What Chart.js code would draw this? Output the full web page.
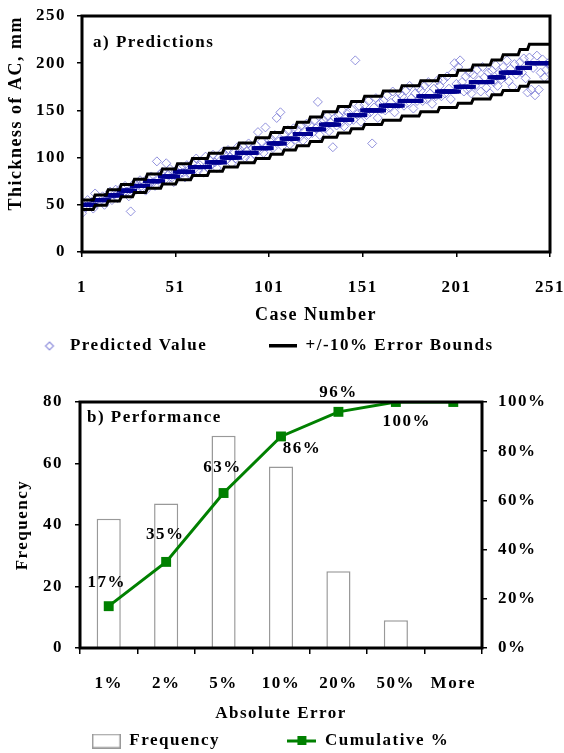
<!DOCTYPE html>
<html>
<head>
<meta charset="utf-8">
<script src="https://cdn.jsdelivr.net/npm/chart.js@4/dist/chart.umd.min.js"></script>
<style>
  html, body { margin: 0; padding: 0; background: #fff; overflow: hidden; }
  #panelA { position: absolute; left: 0; top: 0; width: 564px; height: 368px; }
  #panelB { position: absolute; left: 0; top: 368px; width: 564px; height: 392px; }
</style>
</head>
<body>
<div id="panelA"><canvas id="predictions"></canvas></div>
<div id="panelB"><canvas id="performance"></canvas></div>
<script>
// ---- a) Predictions: measured AC thickness (sorted), as levels and number of cases at each level
const thicknessLevels = [50, 55, 60, 65, 70, 75, 80, 85, 90, 95, 100, 105, 110, 115, 120, 125, 130,
                         135, 140, 145, 150, 155, 160, 165, 170, 175, 180, 185, 190, 195, 200];
const casesPerLevel   = [7, 7, 7, 7, 7, 8, 8, 8, 9, 8, 8, 9, 8, 7, 7, 7, 7,
                         8, 7, 7, 10, 10, 10, 10, 10, 8, 10, 6, 9, 5, 12];

// predicted thickness for each case (mm), case 1..251
const predictedValues = [
  41, 52, 47, 55, 49, 53, 46,
  62, 51, 57, 54, 59, 50, 56,
  58, 64, 55, 61, 66, 57, 63,
  68, 62, 70, 64, 59, 43, 67,
  73, 66, 71, 76, 68, 74, 65,
  78, 72, 80, 74, 70, 96, 77, 83,
  85, 76, 94, 82, 88, 79, 74, 86,
  88, 82, 90, 84, 79, 92, 87, 81,
  94, 88, 99, 86, 92, 96, 84, 101, 90,
  98, 92, 103, 95, 89, 100, 97, 106,
  104, 97, 108, 101, 94, 106, 99, 111,
  109, 102, 112, 100, 107, 115, 98, 110, 104,
  113, 127, 108, 117, 105, 132, 112, 118,
  120, 110, 124, 142, 117, 148, 112,
  125, 117, 129, 114, 122, 131, 119,
  130, 121, 134, 118, 127, 136, 124,
  135, 126, 139, 131, 159, 124, 137,
  140, 131, 144, 128, 137, 111, 142, 134,
  145, 136, 150, 133, 142, 148, 139,
  151, 140, 203, 146, 155, 138, 149,
  156, 145, 160, 148, 115, 153, 163, 142, 158, 151,
  160, 150, 166, 153, 158, 170, 148, 162, 156, 168,
  165, 155, 171, 158, 176, 163, 152, 168, 160, 174,
  171, 160, 176, 162, 180, 168, 157, 173, 165, 182,
  176, 165, 182, 168, 186, 173, 162, 190, 200, 178,
  196, 203, 180, 170, 186, 172, 190, 168,
  188, 176, 193, 182, 170, 196, 185, 174, 190, 168,
  192, 180, 198, 176, 190, 183,
  196, 186, 203, 181, 194, 175, 199, 188, 192,
  201, 190, 205, 184, 169,
  206, 172, 195, 166, 208, 172, 190, 204, 185, 193, 200, 197
];
const caseTicks = [1, 51, 101, 151, 201, 251];
const errorBand = 0.10; // +/-10 % bounds around the measured thickness

// ---- b) Performance: histogram of absolute error
const errorBins     = ['1%', '2%', '5%', '10%', '20%', '50%', 'More'];
const frequency     = [42, 47, 69, 59, 25, 9, 0];
const cumulativePct = [17, 35, 63, 86, 96, 100, 100];

// ---------------------------------------------------------------
const measuredValues = [];
thicknessLevels.forEach((level, i) => {
  for (let k = 0; k < casesPerLevel[i]; k++) measuredValues.push(level);
});
const asPoints = arr => arr.map((v, i) => ({ x: i + 1, y: v }));

const SERIF = "'Liberation Serif', 'Times New Roman', serif";
Chart.defaults.font = { family: SERIF, size: 17, weight: 'bold', lineHeight: 1.2 };
Chart.defaults.color = '#000';

const SPACING = '1.5px';
const spacedText = {
  id: 'spacedText',
  beforeUpdate(chart) { chart.ctx.letterSpacing = SPACING; },
  beforeDraw(chart) { chart.ctx.letterSpacing = SPACING; }
};
const plotFrame = {
  id: 'plotFrame',
  afterDatasetsDraw(chart, args, opts) {
    const { ctx, chartArea: a } = chart;
    ctx.save();
    ctx.strokeStyle = '#000';
    ctx.lineWidth = opts.width || 3;
    ctx.strokeRect(a.left, a.top, a.right - a.left, a.bottom - a.top);
    ctx.restore();
  }
};
const panelTitle = {
  id: 'panelTitle',
  afterDraw(chart, args, opts) {
    const { ctx, chartArea: a } = chart;
    ctx.save();
    ctx.font = `bold 17px ${SERIF}`;
    ctx.fillStyle = '#000';
    ctx.textBaseline = 'middle';
    ctx.textAlign = 'left';
    ctx.fillText(opts.text, a.left + opts.dx, a.top + opts.dy);
    ctx.restore();
  }
};
const nbsp = n => '\u00A0'.repeat(n);
function icon(w, h, paint) {
  const c = document.createElement('canvas');
  c.width = w; c.height = h;
  paint(c.getContext('2d'));
  return c;
}
const tickGrid = (len) => ({ drawOnChartArea: false, drawTicks: true, tickLength: len, color: '#000', lineWidth: 1.5 });
// let the layout padding alone decide where the plot area ends
const noEdgePadding = s => { s.paddingTop = 0; s.paddingBottom = 0; s.paddingLeft = 0; s.paddingRight = 0; };

// ---------------- a) Predictions ----------------
const DIAMOND = 'rgba(110,110,210,0.75)';
const NAVY = '#000090';
const diamondIcon = icon(28, 14, g => {
  g.strokeStyle = DIAMOND; g.lineWidth = 1.2;
  g.beginPath(); g.moveTo(16, 3); g.lineTo(20, 7); g.lineTo(16, 11); g.lineTo(12, 7); g.closePath(); g.stroke();
});
const boundIcon = icon(28, 4, g => { g.fillStyle = '#000'; g.fillRect(0, 0, 28, 3.5); });

new Chart(document.getElementById('predictions'), {
  type: 'scatter',
  data: {
    datasets: [
      {
        label: 'Predicted Value',
        data: asPoints(predictedValues),
        pointStyle: 'rectRot', pointRadius: 4.5, pointBorderWidth: 1,
        borderColor: DIAMOND, backgroundColor: 'rgba(255,255,255,0)',
        order: 2
      },
      {
        label: '+/-10% Error Bounds',
        data: asPoints(measuredValues.map(v => v * (1 + errorBand))),
        showLine: true, borderColor: '#000', borderWidth: 3, pointRadius: 0, tension: 0,
        order: 0
      },
      {
        label: 'Lower bound',
        data: asPoints(measuredValues.map(v => v * (1 - errorBand))),
        showLine: true, borderColor: '#000', borderWidth: 3, pointRadius: 0, tension: 0,
        order: 0
      },
      {
        label: 'Measured',
        data: asPoints(measuredValues),
        pointStyle: 'line', pointRadius: 4.5, pointBorderWidth: 4,
        borderColor: NAVY, backgroundColor: NAVY,
        order: 1
      }
    ]
  },
  options: {
    responsive: true, maintainAspectRatio: false, animation: false, devicePixelRatio: 1,
    layout: { padding: { top: 16, right: 14, bottom: 3.5, left: 0 } },
    scales: {
      x: {
        type: 'linear', min: 1, max: 251,
        afterBuildTicks: s => { s.ticks = caseTicks.map(v => ({ value: v })); },
        ticks: { padding: 20, maxRotation: 0, autoSkip: false },
        grid: tickGrid(5),
        border: { display: false },
        title: { display: true, text: 'Case Number', font: { size: 18 }, padding: { top: 0, bottom: 1.5 } },
        afterFit: s => { s.height = 75.5; noEdgePadding(s); }
      },
      y: {
        min: 0, max: 250,
        ticks: { stepSize: 50, padding: 11 },
        grid: tickGrid(5),
        border: { display: false },
        title: { display: true, text: 'Thickness of AC, mm', align: 'end', font: { size: 18 }, padding: { top: 6, bottom: 0 } },
        afterFit: s => { s.width = 82; noEdgePadding(s); }
      }
    },
    plugins: {
      tooltip: { enabled: false },
      legend: {
        position: 'bottom',
        labels: {
          usePointStyle: true, pointStyleWidth: 28, padding: 10,
          generateLabels: () => [
            { text: 'Predicted Value' + nbsp(9), pointStyle: diamondIcon, lineWidth: 1, hidden: false, datasetIndex: 0, fontColor: '#000' },
            { text: '+/-10% Error Bounds' + nbsp(4), pointStyle: boundIcon, lineWidth: 1, hidden: false, datasetIndex: 1, fontColor: '#000' }
          ]
        }
      },
      plotFrame: { width: 3 },
      panelTitle: { text: 'a) Predictions', dx: 11, dy: 27 }
    }
  },
  plugins: [spacedText, plotFrame, panelTitle]
});

// ---------------- b) Performance ----------------
const GREEN = '#008000';
const cumLabelOffset = [[-2, -24], [-1, -27], [-1, -25], [21, 12], [0, -19], [11, 20], null];
const cumulativeLabels = {
  id: 'cumulativeLabels',
  afterDatasetsDraw(chart) {
    const { ctx } = chart;
    const meta = chart.getDatasetMeta(0);
    ctx.save();
    ctx.font = `bold 17px ${SERIF}`;
    ctx.fillStyle = '#000';
    ctx.textAlign = 'center';
    ctx.textBaseline = 'middle';
    meta.data.forEach((pt, i) => {
      const off = cumLabelOffset[i];
      if (!off) return;
      ctx.fillText(cumulativePct[i] + '%', pt.x + off[0], pt.y + off[1]);
    });
    ctx.restore();
  }
};
const freqIcon = icon(29, 15, g => {
  g.fillStyle = '#fff'; g.fillRect(0, 0, 29, 15);
  g.strokeStyle = '#999'; g.lineWidth = 1.5; g.strokeRect(0.75, 0.75, 27.5, 13.5);
});
const cumIcon = icon(29, 12, g => {
  g.fillStyle = GREEN; g.fillRect(0, 4.5, 29, 3); g.fillRect(10, 1, 9, 9);
});

new Chart(document.getElementById('performance'), {
  type: 'bar',
  data: {
    labels: errorBins,
    datasets: [
      {
        type: 'line', label: 'Cumulative %', data: cumulativePct, yAxisID: 'y1',
        borderColor: GREEN, backgroundColor: GREEN, borderWidth: 3, tension: 0,
        pointStyle: 'rect', pointRadius: 7, pointBorderWidth: 0, order: 0
      },
      {
        type: 'bar', label: 'Frequency', data: frequency, yAxisID: 'y',
        backgroundColor: '#fff', borderColor: '#999', borderWidth: 1.5,
        barPercentage: 0.42, categoryPercentage: 1, order: 1
      }
    ]
  },
  options: {
    responsive: true, maintainAspectRatio: false, animation: false, devicePixelRatio: 1,
    layout: { padding: { top: 34, right: 0, bottom: 0.5, left: 0 } },
    scales: {
      x: {
        offset: true,
        grid: Object.assign(tickGrid(6), { offset: true }),
        border: { display: false },
        ticks: { padding: 19, maxRotation: 0, autoSkip: false },
        title: { display: true, text: 'Absolute Error', font: { lineHeight: 1.1 }, padding: { top: 0, bottom: 0 } },
        afterFit: s => { s.height = 74.5; noEdgePadding(s); }
      },
      y: {
        position: 'left', min: 0, max: 80,
        ticks: { stepSize: 20, padding: 12 },
        grid: tickGrid(5),
        border: { display: false },
        title: { display: true, text: 'Frequency', padding: { top: 12, bottom: 0 } },
        afterFit: s => { s.width = 80; noEdgePadding(s); }
      },
      y1: {
        position: 'right', min: 0, max: 100,
        ticks: { stepSize: 20, padding: 11, callback: v => v + '%' },
        grid: tickGrid(5),
        border: { display: false },
        afterFit: s => { s.width = 82; noEdgePadding(s); }
      }
    },
    plugins: {
      tooltip: { enabled: false },
      legend: {
        position: 'bottom',
        labels: {
          usePointStyle: true, pointStyleWidth: 29, padding: 10,
          generateLabels: () => [
            { text: 'Frequency' + nbsp(10), pointStyle: freqIcon, lineWidth: 1, hidden: false, datasetIndex: 1, fontColor: '#000' },
            { text: 'Cumulative %' + nbsp(4), pointStyle: cumIcon, lineWidth: 1, hidden: false, datasetIndex: 0, fontColor: '#000' }
          ]
        }
      },
      plotFrame: { width: 3 },
      panelTitle: { text: 'b) Performance', dx: 7, dy: 16 }
    }
  },
  plugins: [spacedText, plotFrame, panelTitle, cumulativeLabels]
});
</script>
</body>
</html>
